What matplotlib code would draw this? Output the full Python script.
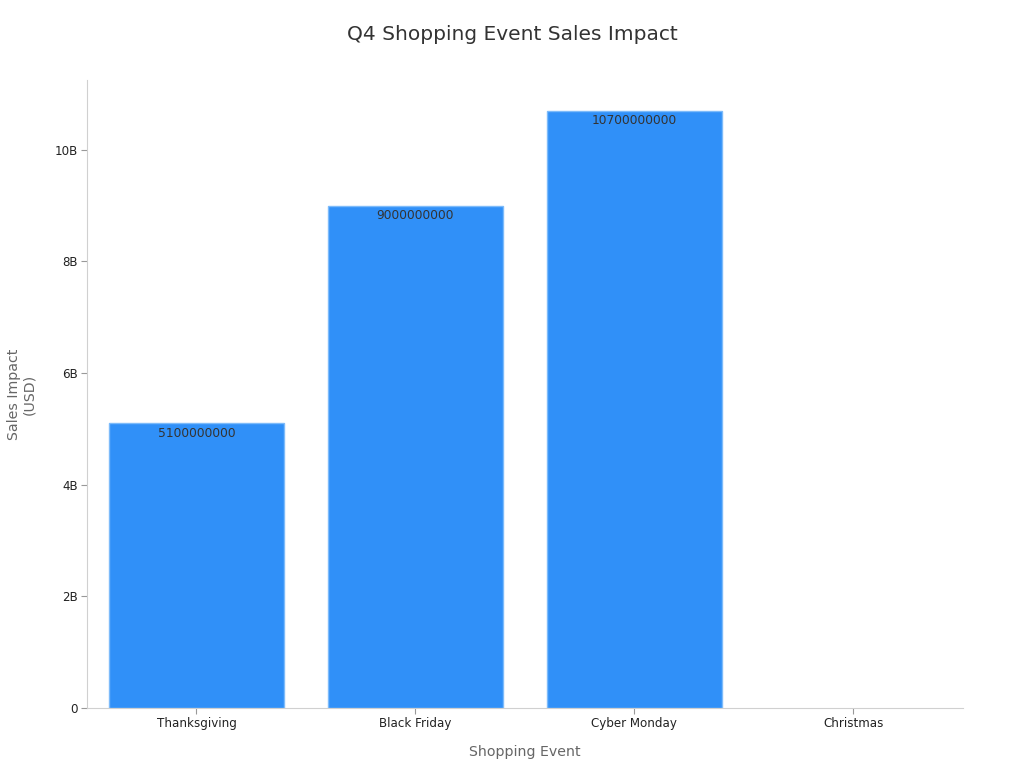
import matplotlib
matplotlib.use("Agg")
import matplotlib.pyplot as plt
import numpy as np
from matplotlib.ticker import FuncFormatter

categories = ["Thanksgiving", "Black Friday", "Cyber Monday", "Christmas"]
values = [5100000000, 9000000000, 10700000000, np.nan]

fig = plt.figure(figsize=(10.24, 7.68), dpi=100)
ax = fig.add_axes([0.085, 0.078, 0.855, 0.818])

x = np.arange(len(categories))
bars = ax.bar(x, values, width=0.8, color="#3090F8", edgecolor="#7DBBFA", linewidth=1)

for xi, v in zip(x, values):
    if not np.isnan(v):
        ax.text(xi, v - 0.07e9, f"{int(v)}", ha="center", va="top", fontsize=8.8, color="#333333")

ax.set_xlim(-0.5, 3.5)
ax.set_ylim(0, 11.25e9)
ax.set_xticks(x)
ax.set_xticklabels(categories, fontsize=8.6, color="#222222")
ax.set_yticks([0, 2e9, 4e9, 6e9, 8e9, 10e9])
ax.yaxis.set_major_formatter(FuncFormatter(lambda v, p: "0" if v == 0 else f"{v/1e9:.0f}B"))
ax.tick_params(axis="y", labelsize=8.6, labelcolor="#222222", color="#999999", length=4, pad=2.5)
ax.tick_params(axis="x", color="#999999", length=4, pad=2.5)

for s in ["top", "right"]:
    ax.spines[s].set_visible(False)
for s in ["left", "bottom"]:
    ax.spines[s].set_color("#D0D0D0")

ax.set_xlabel("Shopping Event", fontsize=10.2, color="#666666", labelpad=11)
ax.set_ylabel("Sales Impact\n(USD)", fontsize=10.2, color="#666666", labelpad=13)
fig.suptitle("Q4 Shopping Event Sales Impact", fontsize=14.5, color="#333333", y=0.968)

fig.savefig("out.png", dpi=100)
